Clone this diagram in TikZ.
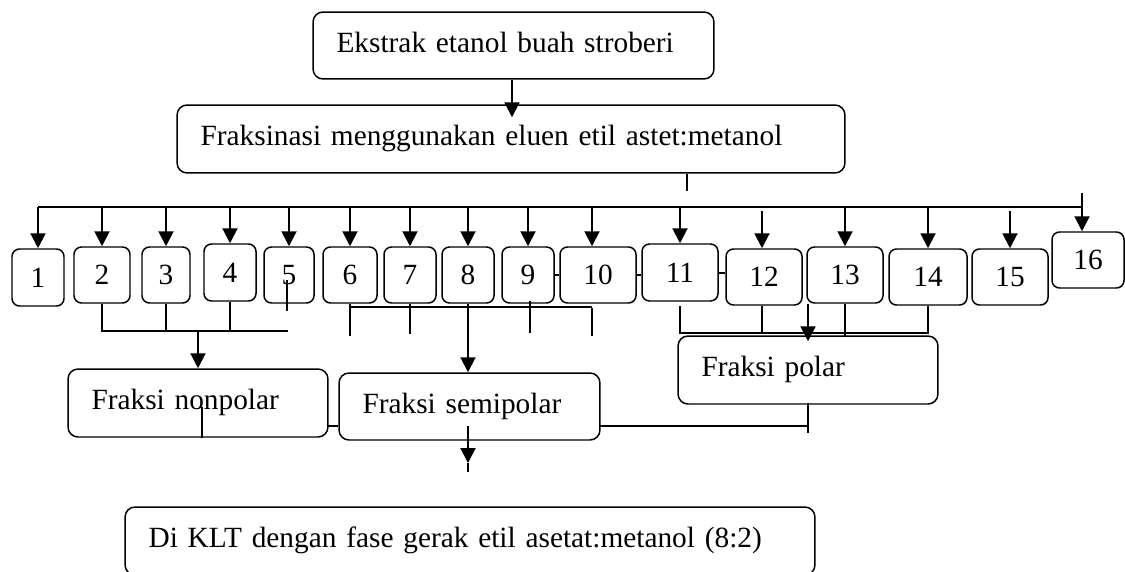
\documentclass[tikz,border=0pt]{standalone}
\usepackage{fontspec}
\setmainfont{Liberation Serif}
\usetikzlibrary{arrows.meta,calc}
\tikzset{
  box/.style={draw,rounded corners=0.15cm,line width=0.85pt,inner sep=0pt},
  bigbox/.style={draw,rounded corners=0.2cm,line width=0.85pt,align=left,
    inner xsep=0.47cm,inner ysep=0pt,minimum height=1.36cm,
    text height=11.4pt,text depth=3.7pt},
  arr/.style={-{Triangle[length=0.3cm,width=0.3cm]},line width=0.04cm},
  wire/.style={line width=0.04cm}
}
\begin{document}
\begin{tikzpicture}[x=0.02cm,y=-0.02cm,every node/.style={font=\fontsize{16.7}{20}\selectfont}]
	\useasboundingbox (0,0) rectangle (1125,571);
	% main boxes
	\node[bigbox,text width=7.08cm,minimum height=1.34cm] (ekstrak) at (513.5,45.5) {Ekstrak etanol buah stroberi};
	\node[bigbox,text width=12.42cm] (fraks) at (511,139) {Fraksinasi menggunakan eluen etil astet:metanol};
	\node[bigbox,text width=4.26cm] (nonpolar) at (198,403) {Fraksi nonpolar};
	\node[bigbox,text width=4.28cm,minimum height=1.34cm] (semipolar) at (469.5,406.5) {Fraksi semipolar};
	\node[bigbox,text width=4.26cm] (polar) at (808,370) {Fraksi polar};
	\node[bigbox,text width=12.86cm] (klt) at (470,541) {Di KLT dengan fase gerak etil asetat:metanol (8:2)};
	% fraction boxes 1-16
	\foreach \i/\xa/\ya/\xb/\yb in {1/12/249/64/306,2/74/247/130/303,3/142/247/190/303,
	  4/204/244/256/301,5/264/247/314/303,6/323/247/377/303,7/384/247/436/303,
	  8/442/247/494/303,9/502/247/554/303,10/560/247/636/303,11/642/244/718/301,
	  12/726/249/802/305,13/807/247/883/303,14/889/249/967/305,15/972/249/1048/305,
	  16/1052/232/1124/288}
	  \node[box,minimum width={(\xb-\xa)*0.02cm},minimum height={(\yb-\ya)*0.02cm}] (n\i) at ({(\xa+\xb)/2},{(\ya+\yb)/2}) {\i};
	% top part
	\draw[arr] ($(ekstrak.south)+(-1.5,0)$) -- ($(fraks.north)+(1,13)$);
	\coordinate (tick) at (687,174);
	\draw[wire] (tick) -- ++(0,17);
	\coordinate (busL) at (38,207);
	\coordinate (busR) at (1083,207);
	\draw[wire] (busL) -- (busR);
	\foreach \i in {1,...,9,11,13,14} {
	\draw[arr] (n\i.north |- busL) -- (n\i.north);
	}
	\draw[arr] ($(n10.north |- busL)+(-6,0)$) -- ($(n10.north)+(-6,0)$);
	\draw[arr] ($(n12.north |- busL)+(-2,4)$) -- ($(n12.north)+(-2,0)$);
	\draw[arr] ($(n15.north |- busL)+(0,4)$) -- (n15.north);
	\draw[arr] ($(n16.north)+(-6,-38)$) -- ($(n16.north)+(-6,0)$);
	\draw[wire] (n9.east) -- (n10.west);
	\draw[wire] (n10.east) -- (n10.east -| n11.west);
	\draw[wire] (n11.east) -- (n11.east -| n12.west);
	% nonpolar 2-4
	\coordinate (npbar) at (288,331);
	\draw[wire] (n2.south) |- (npbar);
	\foreach \i in {3,4} {
	\draw[wire] (n\i.south) -- (n\i.south |- npbar);
	}
	\draw[wire] ($(n5.center)+(-2,5)$) -- ++(0,31);
	\draw[arr] (nonpolar.north |- npbar) -- (nonpolar.north);
	% semipolar 6-10
	\draw[wire] (350,307) -- (592,307);
	\draw[wire] (n6.south) -- ++(0,32);
	\draw[wire] (n7.south) -- ++(0,30);
	\draw[wire] ($(n9.south)+(2,-3)$) -- ++(0,32);
	\draw[wire] ($(n10.south)+(-6,4)$) -- ++(0,28);
	\draw[arr] (n8.south) -- (n8.south |- semipolar.north);
	% polar 11-14
	\draw[wire] (680,333) -- (928,333);
	\draw[wire] ($(n11.south)+(0,4)$) -- ++(0,28);
	\draw[wire] ($(n12.south)+(-2,0)$) -- ++(0,28);
	\draw[wire] (n13.south) -- ++(0,32);
	\draw[wire] (n14.south) -- ++(0,28);
	\draw[arr] (n13.south west -| polar.north) -- ($(polar.north)+(0,6)$);
	% lower links
	\draw[wire] ($(nonpolar.south)+(4,0)$) -- ++(0,-31);
	\coordinate (nps) at (328,426);
	\draw[wire] (nps) -- (nps -| semipolar.west);
	\coordinate (sp) at (600,426);
	\draw[wire] (sp) -- (sp -| polar.south);
	\draw[wire] ($(polar.south)+(0,-2)$) -- ++(0,30);
	\coordinate (kltin) at (468,463);
	\draw[arr] ($(semipolar.south)+(-1.5,-15)$) -- (kltin);
	\draw[wire] (kltin) -- ++(0,9);
\end{tikzpicture}
\end{document}
